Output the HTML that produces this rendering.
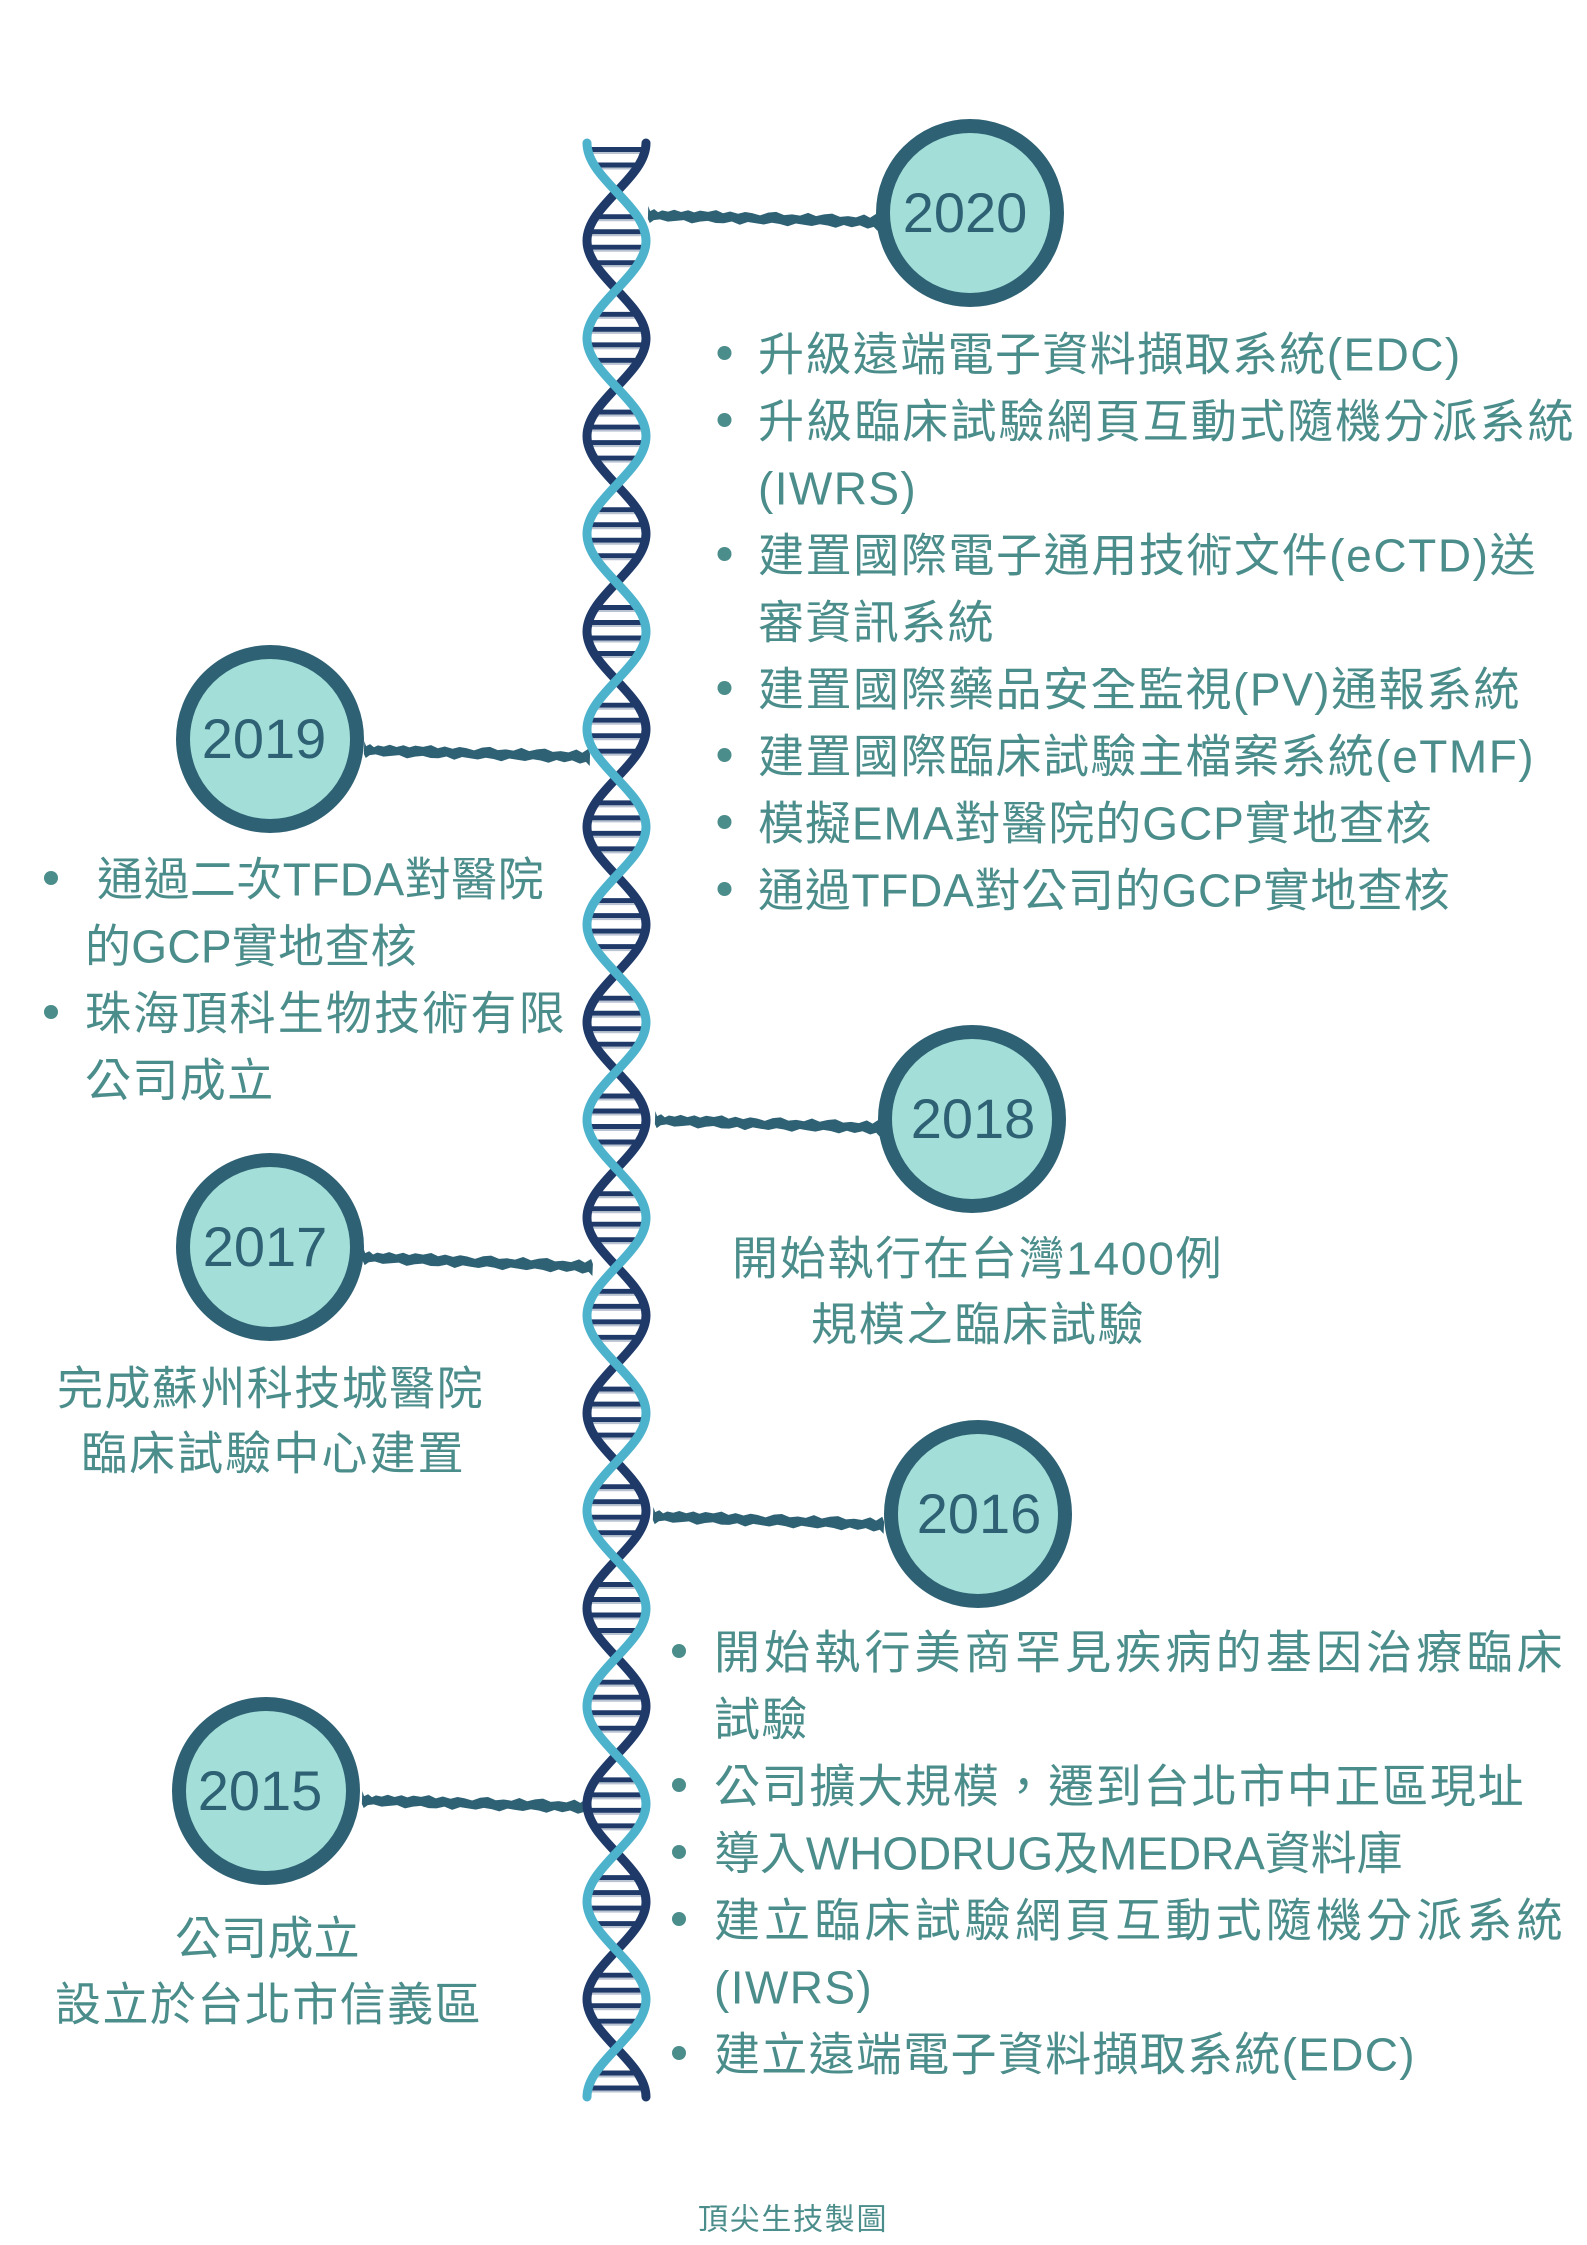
<!DOCTYPE html>
<html>
<head>
<meta charset="utf-8">
<style>
html,body{margin:0;padding:0;background:#fff;}
svg{display:block;}
text{font-family:"Liberation Sans","Noto Sans CJK TC",sans-serif;}
.b{font-size:46px;letter-spacing:1.4px;fill:#4b8d8b;}
.y{font-size:56px;fill:#2e6174;text-anchor:middle;}
.f{font-size:30px;letter-spacing:1.7px;fill:#4b8d8b;}
</style>
</head>
<body>
<svg width="1587" height="2245" viewBox="0 0 1587 2245" xmlns="http://www.w3.org/2000/svg">
<defs>
  <polygon id="brush" points="0,-9 2,-4 6,-6 10,-3 14,-5 20,-4 26,-6 33,-4 40,-6 46,-4 52,-6 60,-5 68,-7 75,-4 82,-6 90,-4 97,-6 104,-5 112,-3 120,-6 128,-7 136,-4 144,-5 152,-4 160,-7 168,-4 176,-6 184,-7 192,-4 200,-5 208,-4 216,-7 222,-4 228,-8 230,-3 230,9 226,5 220,7 212,4 204,6 196,4 188,7 180,5 172,4 164,6 156,5 148,4 140,7 132,5 124,4 116,6 108,5 100,4 92,7 84,4 76,6 68,6 60,4 52,5 44,7 36,4 28,5 20,6 12,4 6,5 2,8 0,4"/>
  <g id="L">
    <path d="M595.4,-24H637.6M588.2,-9H644.8M587.6,6.5H645.4M594.1,22H638.9" stroke="#1f3a69" stroke-width="5" fill="none"/>
    <path d="M595.4,-20.5H637.6M588.2,-5.5H644.8M587.6,10H645.4M594.1,25.5H638.9" stroke="#b9c3d2" stroke-width="2" fill="none"/>
  </g>
  <clipPath id="dnaclip"><rect x="560" y="143" width="120" height="1954"/></clipPath>
</defs>

<!-- connectors -->
<g fill="#2e6174">
  <use href="#brush" transform="translate(648,215) rotate(1.74)"/>
  <use href="#brush" transform="translate(364,750) rotate(1.77) scale(0.983,1)"/>
  <use href="#brush" transform="translate(655,1120) rotate(2.0) scale(0.98,1)"/>
  <use href="#brush" transform="translate(363,1257) rotate(2.5)"/>
  <use href="#brush" transform="translate(653,1516) rotate(2.2) scale(1.005,1)"/>
  <use href="#brush" transform="translate(362,1800) rotate(1.8) scale(0.983,1)"/>
</g>

<!-- DNA rungs -->
<g clip-path="url(#dnaclip)">
  <use href="#L" y="143"/>
  <use href="#L" y="240.7"/>
  <use href="#L" y="338.4"/>
  <use href="#L" y="436.1"/>
  <use href="#L" y="533.8"/>
  <use href="#L" y="631.5"/>
  <use href="#L" y="729.2"/>
  <use href="#L" y="826.9"/>
  <use href="#L" y="924.6"/>
  <use href="#L" y="1022.3"/>
  <use href="#L" y="1120"/>
  <use href="#L" y="1217.7"/>
  <use href="#L" y="1315.4"/>
  <use href="#L" y="1413.1"/>
  <use href="#L" y="1510.8"/>
  <use href="#L" y="1608.5"/>
  <use href="#L" y="1706.2"/>
  <use href="#L" y="1803.9"/>
  <use href="#L" y="1901.6"/>
  <use href="#L" y="1999.3"/>
  <use href="#L" y="2097"/>
</g>

<!-- DNA strands -->
<path fill="none" stroke="#1f3a69" stroke-width="9" stroke-linecap="round"
 d="M646,143 C646,178.5 587,205.2 587,240.7 S646,302.9 646,338.4 S587,400.6 587,436.1 S646,498.3 646,533.8 S587,596 587,631.5 S646,693.7 646,729.2 S587,791.4 587,826.9 S646,889.1 646,924.6 S587,986.8 587,1022.3 S646,1084.5 646,1120 S587,1182.2 587,1217.7 S646,1279.9 646,1315.4 S587,1377.6 587,1413.1 S646,1475.3 646,1510.8 S587,1573 587,1608.5 S646,1670.7 646,1706.2 S587,1768.4 587,1803.9 S646,1866.1 646,1901.6 S587,1963.8 587,1999.3 S646,2061.5 646,2097"/>
<path fill="none" stroke="#4db2cc" stroke-width="9" stroke-linecap="round"
 d="M587,143 C587,178.5 646,205.2 646,240.7 S587,302.9 587,338.4 S646,400.6 646,436.1 S587,498.3 587,533.8 S646,596 646,631.5 S587,693.7 587,729.2 S646,791.4 646,826.9 S587,889.1 587,924.6 S646,986.8 646,1022.3 S587,1084.5 587,1120 S646,1182.2 646,1217.7 S587,1279.9 587,1315.4 S646,1377.6 646,1413.1 S587,1475.3 587,1510.8 S646,1573 646,1608.5 S587,1670.7 587,1706.2 S646,1768.4 646,1803.9 S587,1866.1 587,1901.6 S646,1963.8 646,1999.3 S587,2061.5 587,2097"/>

<!-- circles -->
<g fill="#a3dfd8" stroke="#2e6174" stroke-width="14">
  <circle cx="970" cy="213" r="87"/>
  <circle cx="270" cy="739" r="87"/>
  <circle cx="972" cy="1119" r="87"/>
  <circle cx="270" cy="1247" r="87"/>
  <circle cx="978" cy="1514" r="87"/>
  <circle cx="266" cy="1791" r="87"/>
</g>

<!-- years -->
<text class="y" x="965" y="232">2020</text>
<text class="y" x="264" y="758">2019</text>
<text class="y" x="973" y="1138">2018</text>
<text class="y" x="265" y="1266">2017</text>
<text class="y" x="979" y="1533">2016</text>
<text class="y" x="260" y="1810">2015</text>

<!-- bullets -->
<g fill="#4b8d8b">
  <circle cx="724.5" cy="353" r="7"/>
  <circle cx="724.5" cy="420" r="7"/>
  <circle cx="724.5" cy="554" r="7"/>
  <circle cx="724.5" cy="688" r="7"/>
  <circle cx="724.5" cy="755" r="7"/>
  <circle cx="724.5" cy="822" r="7"/>
  <circle cx="724.5" cy="889" r="7"/>

  <circle cx="51" cy="878" r="7"/>
  <circle cx="51" cy="1012" r="7"/>

  <circle cx="679" cy="1651" r="7"/>
  <circle cx="679" cy="1785" r="7"/>
  <circle cx="679" cy="1852" r="7"/>
  <circle cx="679" cy="1919" r="7"/>
  <circle cx="679" cy="2053" r="7"/>
</g>

<!-- 2020 list -->
<text class="b" x="758" y="370.5">升級遠端電子資料擷取系統(EDC)</text>
<text class="b" x="758" y="437.5" textLength="817" lengthAdjust="spacing">升級臨床試驗網頁互動式隨機分派系統</text>
<text class="b" x="758" y="504.5">(IWRS)</text>
<text class="b" x="758" y="571.5" textLength="779" lengthAdjust="spacing">建置國際電子通用技術文件(eCTD)送</text>
<text class="b" x="758" y="638.5">審資訊系統</text>
<text class="b" x="758" y="705.5" textLength="763" lengthAdjust="spacing">建置國際藥品安全監視(PV)通報系統</text>
<text class="b" x="758" y="772.5" textLength="777" lengthAdjust="spacing">建置國際臨床試驗主檔案系統(eTMF)</text>
<text class="b" x="758" y="839.5" textLength="675" lengthAdjust="spacing">模擬EMA對醫院的GCP實地查核</text>
<text class="b" x="758" y="906.5" textLength="693" lengthAdjust="spacing">通過TFDA對公司的GCP實地查核</text>

<!-- 2019 list -->
<text class="b" x="97" y="895.5" textLength="448" lengthAdjust="spacing">通過二次TFDA對醫院</text>
<text class="b" x="85" y="962.5" textLength="333" lengthAdjust="spacing">的GCP實地查核</text>
<text class="b" x="85" y="1029.5" textLength="481" lengthAdjust="spacing">珠海頂科生物技術有限</text>
<text class="b" x="85" y="1096.5">公司成立</text>

<!-- 2018 -->
<text class="b" x="732" y="1274.5" textLength="491" lengthAdjust="spacing">開始執行在台灣1400例</text>
<text class="b" x="811" y="1340.5" textLength="334" lengthAdjust="spacing">規模之臨床試驗</text>

<!-- 2017 -->
<text class="b" x="57" y="1404.5" textLength="427" lengthAdjust="spacing">完成蘇州科技城醫院</text>
<text class="b" x="81" y="1469.5" textLength="384" lengthAdjust="spacing">臨床試驗中心建置</text>

<!-- 2016 list -->
<text class="b" x="714" y="1668.5" textLength="850" lengthAdjust="spacing">開始執行美商罕見疾病的基因治療臨床</text>
<text class="b" x="714" y="1735.5">試驗</text>
<text class="b" x="714" y="1802.5" textLength="811" lengthAdjust="spacing">公司擴大規模，遷到台北市中正區現址</text>
<text class="b" x="714" y="1869.5" textLength="690" lengthAdjust="spacing">導入WHODRUG及MEDRA資料庫</text>
<text class="b" x="714" y="1936.5" textLength="850" lengthAdjust="spacing">建立臨床試驗網頁互動式隨機分派系統</text>
<text class="b" x="714" y="2003.5">(IWRS)</text>
<text class="b" x="714" y="2070.5" textLength="702" lengthAdjust="spacing">建立遠端電子資料擷取系統(EDC)</text>

<!-- 2015 -->
<text class="b" x="175" y="1954.5" textLength="186" lengthAdjust="spacing">公司成立</text>
<text class="b" x="55" y="2020.5" textLength="427" lengthAdjust="spacing">設立於台北市信義區</text>

<!-- footer -->
<text class="f" x="698" y="2229.5">頂尖生技製圖</text>
</svg>
</body>
</html>
